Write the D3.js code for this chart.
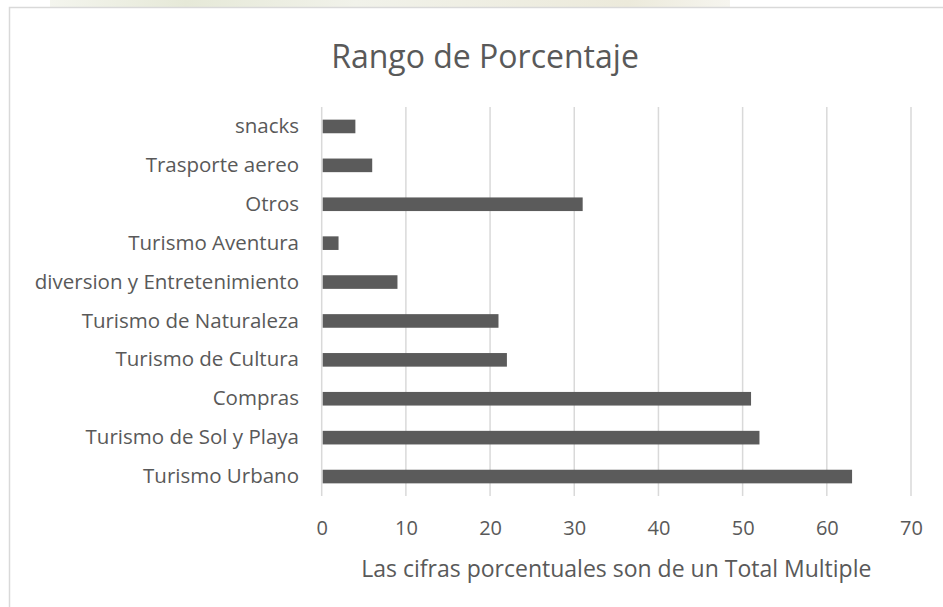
<!DOCTYPE html>
<html><head><meta charset="utf-8">
<script src="https://cdn.jsdelivr.net/npm/d3@7"></script>
<style>html,body{margin:0;padding:0;background:#fff;}svg{display:block;}</style>
</head><body><div id="chart"></div>
<script>
const categories = ["snacks","Trasporte aereo","Otros","Turismo Aventura","diversion y Entretenimiento","Turismo de Naturaleza","Turismo de Cultura","Compras","Turismo de Sol y Playa","Turismo Urbano"];
const values = [4,6,31,2,9,21,22,51,52,63];
const tickValues = [0,10,20,30,40,50,60,70];
const title = "Rango de Porcentaje";
const xTitle = "Las cifras porcentuales son de un Total Multiple";

const W = 943, H = 607;
const svg = d3.select("#chart").append("svg").attr("width", W).attr("height", H);
const font = "'Open Sans', 'Noto Sans', sans-serif";
const txt = "#595959";

// faint watermark strip at top
const defs = svg.append("defs");
const lg = defs.append("linearGradient").attr("id", "wm");
lg.append("stop").attr("offset", "0%").attr("stop-color", "#f4f5ee");
lg.append("stop").attr("offset", "20%").attr("stop-color", "#e6e9d8");
lg.append("stop").attr("offset", "45%").attr("stop-color", "#f1f2ea");
lg.append("stop").attr("offset", "85%").attr("stop-color", "#eceadb");
lg.append("stop").attr("offset", "100%").attr("stop-color", "#f6f5ef");
svg.append("rect").attr("x", 50).attr("y", 0).attr("width", 680).attr("height", 7).attr("fill", "url(#wm)");

// chart border (left & top visible)
svg.append("path").attr("d", `M9.5,${H} L9.5,7.5 L${W},7.5`).attr("fill", "none").attr("stroke", "#d9d9d9").attr("stroke-width", 1.5);

const x = d3.scaleLinear().domain([0, 70]).range([321.7, 911]);
const y = d3.scaleBand().domain(categories).range([107, 496]).paddingInner(0.65).paddingOuter(0.325);

// gridlines
svg.append("g").selectAll("line").data(tickValues).join("line")
  .attr("x1", d => x(d)).attr("x2", d => x(d)).attr("y1", 107).attr("y2", 496)
  .attr("stroke", "#d9d9d9").attr("stroke-width", 1.5);

// bars
svg.append("g").selectAll("rect").data(values).join("rect")
  .attr("x", x(0) + 1).attr("y", (d, i) => y(categories[i]))
  .attr("width", d => x(d) - x(0) - 1).attr("height", y.bandwidth())
  .attr("fill", "#5b5b5b");

// x axis labels
const xAxis = d3.axisBottom(x).tickValues(tickValues).tickSize(0).tickPadding(0);
const gx = svg.append("g").attr("transform", "translate(0,518)").call(xAxis);
gx.select(".domain").remove();
gx.selectAll("text").attr("font-family", font).attr("font-size", 20).attr("fill", txt).attr("dy", "0.85em");

// y axis labels
const yAxis = d3.axisLeft(y).tickSize(0).tickPadding(0);
const gy = svg.append("g").attr("transform", "translate(299,0)").call(yAxis);
gy.select(".domain").remove();
gy.selectAll("text").attr("font-family", font).attr("font-size", 20.5).attr("fill", txt);

// title
svg.append("text").attr("x", 485).attr("y", 68).attr("text-anchor", "middle")
  .attr("font-family", font).attr("font-size", 32).attr("fill", txt).text(title);

// x title
svg.append("text").attr("x", (x(0) + x(70)) / 2).attr("y", 577).attr("text-anchor", "middle")
  .attr("font-family", font).attr("font-size", 23).attr("fill", txt).text(xTitle);
</script></body></html>
